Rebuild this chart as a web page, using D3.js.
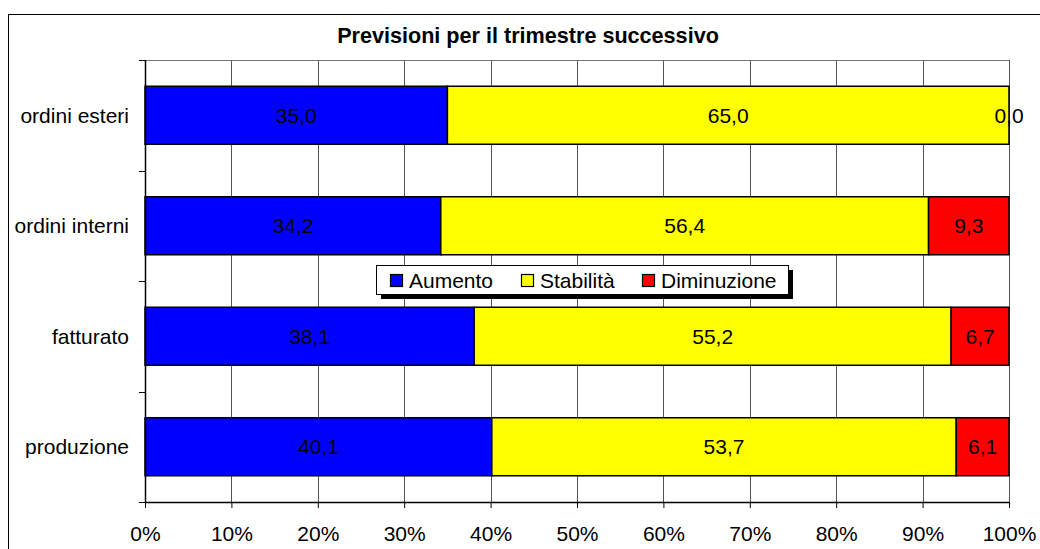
<!DOCTYPE html>
<html>
<head>
<meta charset="utf-8">
<script src="https://cdn.jsdelivr.net/npm/d3@7"></script>
<style>
  body { margin: 0; background: #fff; }
  text { font-family: "Liberation Sans", Arial, sans-serif; }
</style>
</head>
<body>
<div id="chart"></div>
<script>
let categories = ["ordini esteri", "ordini interni", "fatturato", "produzione"];
let seriesNames = ["Aumento", "Stabilità", "Diminuzione"];
let aumento = [35.0, 34.2, 38.1, 40.1];
let stabilita = [65.0, 56.4, 55.2, 53.7];
let diminuzione = [0.0, 9.3, 6.7, 6.1];
let colors = ["#0000ff", "#ffff00", "#ff0000"];
let tickValues = [0, 0.1, 0.2, 0.3, 0.4, 0.5, 0.6, 0.7, 0.8, 0.9, 1];

let W = 1040, H = 549;
let margin = {top: 60, right: 31, bottom: 47, left: 145},
    width = W - margin.left - margin.right,
    height = H - margin.top - margin.bottom;
let fs = 21;

let svg = d3.select("#chart").append("svg")
    .attr("width", W)
    .attr("height", H);

// outer chart border
svg.append("rect")
    .attr("x", 8.5).attr("y", 14.5)
    .attr("width", 1040).attr("height", 600)
    .attr("fill", "#fff")
    .attr("stroke", "#000")
    .attr("stroke-width", 1);

svg.append("text")
    .attr("x", 528).attr("y", 43)
    .attr("text-anchor", "middle")
    .attr("font-size", 21.6)
    .attr("font-weight", "bold")
    .text("Previsioni per il trimestre successivo");

let rows = categories.map(function(c, i) {
    let vals = [aumento[i], stabilita[i], diminuzione[i]];
    let tot = d3.sum(vals);
    let acc = 0;
    return {
        cat: c,
        segs: vals.map(function(v, j) {
            let s = {v: v, x0: acc / tot, x1: (acc + v) / tot, k: j};
            acc += v;
            return s;
        })
    };
});

let x = d3.scaleLinear().domain([0, 1]).range([0, width]);
let y = d3.scaleBand().domain(categories).range([0, height]).paddingInner(0.475).paddingOuter(0.2375);

let g = svg.append("g")
    .attr("transform", "translate(" + margin.left + "," + margin.top + ")");

// gridlines
g.selectAll(".grid")
    .data(tickValues)
    .enter().append("line")
    .attr("x1", function(d) { return Math.round(x(d)) + 0.5; })
    .attr("x2", function(d) { return Math.round(x(d)) + 0.5; })
    .attr("y1", 0).attr("y2", height)
    .attr("stroke", "#555")
    .attr("stroke-width", 1);

g.append("line")
    .attr("x1", 0).attr("x2", width)
    .attr("y1", 0.5).attr("y2", 0.5)
    .attr("stroke", "#777");

let fmt = function(v) { return v.toFixed(1).replace(".", ","); };

let bars = g.selectAll(".row")
    .data(rows)
    .enter().append("g")
    .attr("transform", function(d) { return "translate(0," + y(d.cat) + ")"; });

bars.selectAll("rect")
    .data(function(d) { return d.segs; })
    .enter().append("rect")
    .attr("x", function(d) { return x(d.x0); })
    .attr("width", function(d) { return x(d.x1) - x(d.x0); })
    .attr("y", 0)
    .attr("height", y.bandwidth())
    .attr("fill", function(d) { return colors[d.k]; })
    .attr("stroke", "#000")
    .attr("stroke-width", 1.5);

bars.selectAll("text")
    .data(function(d) { return d.segs; })
    .enter().append("text")
    .attr("x", function(d) { return (x(d.x0) + x(d.x1)) / 2; })
    .attr("y", y.bandwidth() / 2)
    .attr("dy", "0.35em")
    .attr("text-anchor", "middle")
    .attr("font-size", fs)
    .attr("fill", "#000")
    .text(function(d) { return fmt(d.v); });

// x axis
let xAxis = d3.axisBottom(x)
    .tickValues(tickValues)
    .tickFormat(d3.format(".0%"))
    .tickSize(6)
    .tickSizeOuter(0)
    .tickPadding(18);

let xa = g.append("g")
    .attr("transform", "translate(0," + height + ")")
    .call(xAxis);
xa.select(".domain").attr("stroke", "#000").attr("stroke-width", 1.5);
xa.selectAll(".tick line").attr("stroke", "#000");
xa.selectAll("text").attr("font-size", fs).attr("fill", "#000")
    .style("font-family", "'Liberation Sans', Arial, sans-serif");

// y axis with ticks at band boundaries
let yEdges = d3.range(categories.length + 1).map(function(i) { return i * height / categories.length; });
g.append("line")
    .attr("x1", 0.5).attr("x2", 0.5)
    .attr("y1", 0).attr("y2", height)
    .attr("stroke", "#000").attr("stroke-width", 1.5);
g.selectAll(".ytick")
    .data(yEdges)
    .enter().append("line")
    .attr("x1", -6).attr("x2", 0)
    .attr("y1", function(d) { return Math.round(d) + 0.5; })
    .attr("y2", function(d) { return Math.round(d) + 0.5; })
    .attr("stroke", "#000");
g.selectAll(".ylab")
    .data(categories)
    .enter().append("text")
    .attr("x", -16)
    .attr("y", function(d) { return y(d) + y.bandwidth() / 2; })
    .attr("dy", "0.35em")
    .attr("text-anchor", "end")
    .attr("font-size", fs)
    .text(function(d) { return d; });

// legend
let lg = svg.append("g").attr("transform", "translate(376,265)");
lg.append("rect").attr("x", 5).attr("y", 5).attr("width", 412).attr("height", 29).attr("fill", "#000");
lg.append("rect").attr("x", 0.5).attr("y", 0.5).attr("width", 412).attr("height", 29)
    .attr("fill", "#fff").attr("stroke", "#000");
let legX = [14, 145, 266];
let items = lg.selectAll(".item")
    .data(seriesNames)
    .enter().append("g")
    .attr("transform", function(d, i) { return "translate(" + legX[i] + ",0)"; });
items.append("rect")
    .attr("x", 0.5).attr("y", 9.5).attr("width", 12).attr("height", 12)
    .attr("fill", function(d, i) { return colors[i]; })
    .attr("stroke", "#000").attr("stroke-width", 1.2);
items.append("text")
    .attr("x", 19).attr("y", 16)
    .attr("dy", "0.35em")
    .attr("font-size", fs)
    .text(function(d) { return d; });
</script>
</body>
</html>
